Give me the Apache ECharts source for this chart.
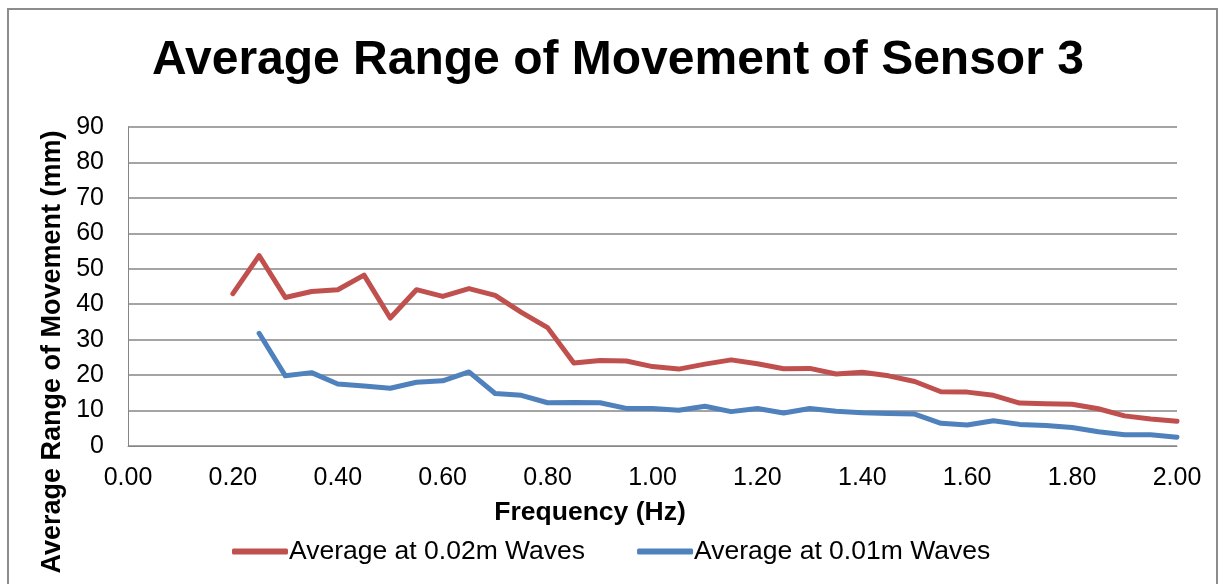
<!DOCTYPE html>
<html>
<head>
<meta charset="utf-8">
<title>Average Range of Movement of Sensor 3</title>
<script src="https://cdn.jsdelivr.net/npm/echarts@6/dist/echarts.min.js"></script>
<style>
  html, body { margin: 0; padding: 0; background: #fff; }
  #chart { width: 1218px; height: 584px; }
</style>
</head>
<body>
<div id="chart"></div>
<script>
// frequencies (Hz) and readings (mm)
var freq02 = [0.20, 0.25, 0.30, 0.35, 0.40, 0.45, 0.50, 0.55, 0.60, 0.65,
              0.70, 0.75, 0.80, 0.85, 0.90, 0.95, 1.00, 1.05, 1.10, 1.15,
              1.20, 1.25, 1.30, 1.35, 1.40, 1.45, 1.50, 1.55, 1.60, 1.65,
              1.70, 1.75, 1.80, 1.85, 1.90, 1.95, 2.00];
var avg02 = [43.0, 53.7, 41.9, 43.6, 44.1, 48.2, 36.1, 44.1, 42.2, 44.4,
             42.5, 37.7, 33.4, 23.4, 24.1, 24.0, 22.4, 21.7, 23.1, 24.3,
             23.2, 21.8, 21.9, 20.3, 20.8, 19.8, 18.2, 15.3, 15.2, 14.3,
             12.1, 11.9, 11.8, 10.5, 8.5, 7.6, 7.0];

var freq01 = [0.25, 0.30, 0.35, 0.40, 0.45, 0.50, 0.55, 0.60, 0.65,
              0.70, 0.75, 0.80, 0.85, 0.90, 0.95, 1.00, 1.05, 1.10, 1.15,
              1.20, 1.25, 1.30, 1.35, 1.40, 1.45, 1.50, 1.55, 1.60, 1.65,
              1.70, 1.75, 1.80, 1.85, 1.90, 1.95, 2.00];
var avg01 = [31.8, 19.8, 20.7, 17.5, 16.9, 16.3, 18.0, 18.4, 20.9,
             14.8, 14.3, 12.2, 12.3, 12.2, 10.6, 10.6, 10.1, 11.2, 9.7,
             10.6, 9.3, 10.6, 9.8, 9.4, 9.2, 9.0, 6.4, 5.9, 7.1,
             6.1, 5.8, 5.2, 4.0, 3.2, 3.2, 2.5];

var seriesNames = ['Average at 0.02m Waves', 'Average at 0.01m Waves'];

function pairs(xs, ys) {
  var out = [];
  for (var i = 0; i < xs.length; i++) {
    out.push([xs[i], ys[i]]);
  }
  return out;
}

var font = '"Liberation Sans", Arial, sans-serif';
var gridColor = '#868686';

var myChart = echarts.init(document.getElementById('chart'));
var option = {
  animation: false,
  title: [
    {
      text: 'Average Range of Movement of Sensor 3',
      left: 613, top: 32, textAlign: 'center',
      textStyle: { fontFamily: font, fontSize: 48, fontWeight: 'bold', color: '#000' }
    },
    {
      text: 'Frequency (Hz)',
      left: 585, top: 494, textAlign: 'center',
      textStyle: { fontFamily: font, fontSize: 26.5, fontWeight: 'bold', color: '#000' }
    }
  ],
  graphic: [
    {
      type: 'rect',
      shape: { x: 8, y: 9, width: 1209, height: 620 },
      style: { fill: 'none', stroke: '#8c8c8c', lineWidth: 2 },
      silent: true
    },
    {
      type: 'text',
      x: 53, y: 352,
      rotation: Math.PI / 2,
      style: {
        text: 'Average Range of Movement (mm)',
        fontFamily: font, fontSize: 27, fontWeight: 'bold', fill: '#000',
        align: 'center', verticalAlign: 'middle'
      }
    }
  ],
  legend: {
    left: 232, top: 538, padding: 0,
    itemWidth: 56, itemHeight: 6, itemGap: 52,
    icon: 'roundRect',
    textStyle: { fontFamily: font, fontSize: 26.5, color: '#000', padding: [0, 0, 0, -4] },
    data: seriesNames
  },
  grid: { left: 128, right: 41, top: 127, bottom: 138 },
  xAxis: {
    type: 'value',
    min: 0, max: 2, interval: 0.2,
    axisLine: { show: true, lineStyle: { color: gridColor, width: 1 } },
    axisTick: { show: false },
    splitLine: { show: false },
    axisLabel: {
      margin: 20, color: '#000', fontFamily: font, fontSize: 25,
      formatter: function (v) { return v.toFixed(2); }
    }
  },
  yAxis: {
    type: 'value',
    min: 0, max: 90, interval: 10,
    axisLine: { show: true, lineStyle: { color: gridColor, width: 1 } },
    axisTick: { show: false },
    splitLine: { show: true, lineStyle: { color: gridColor, width: 1.5 } },
    axisLabel: { margin: 24, color: '#000', fontFamily: font, fontSize: 25 }
  },
  series: [
    {
      name: seriesNames[0],
      type: 'line',
      data: pairs(freq02, avg02),
      symbol: 'none',
      color: '#C0504D',
      lineStyle: { width: 5, cap: 'round', join: 'round' }
    },
    {
      name: seriesNames[1],
      type: 'line',
      data: pairs(freq01, avg01),
      symbol: 'none',
      color: '#4F81BD',
      lineStyle: { width: 5, cap: 'round', join: 'round' }
    }
  ]
};
myChart.setOption(option);
</script>
</body>
</html>
